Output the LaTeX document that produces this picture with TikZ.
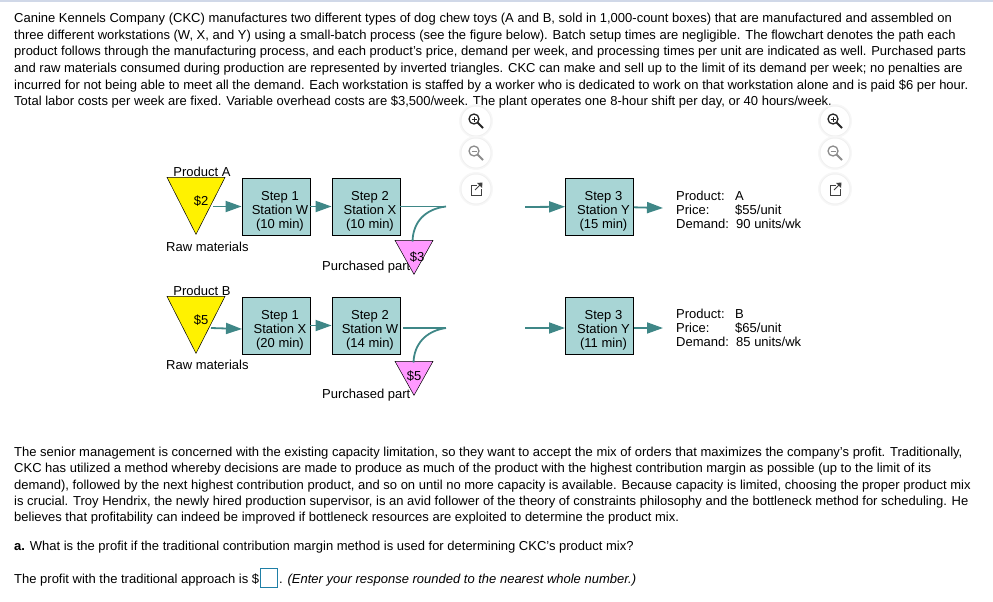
\documentclass[tikz,border=0pt]{standalone}
\usepackage{fontspec}
\setmainfont{Liberation Sans}
\usetikzlibrary{arrows.meta, positioning, shapes.geometric, calc}

\newcommand{\stationtext}[3]{\rule{0pt}{18pt}\hspace*{8pt}#1\\\hspace*{8pt}#2\\\hspace*{8pt}#3}
\newcommand{\infotext}[3]{\makebox[59pt][l]{Product:}#1\\\makebox[59pt][l]{Price:}#2\\\makebox[60pt][l]{Demand:}#3}
\newcommand{\iconbase}[1]{%
  \fill[black!3] (#1) circle (17);
  \fill[black!6] (#1) circle (15.5);
  \fill[white] (#1) circle (14.5);
}
\newcommand{\zoomicon}[3]{%
  \iconbase{#1}
  \draw[#3, line width=1.3pt] ($(#1)+(-2,-2)$) circle (5);
  \draw[#3, line width=2pt] ($(#1)+(1.6,1.6)$) -- ($(#1)+(7,7)$);
  \draw[#3, line width=.9pt] ($(#1)+(-4.5,-2)$) -- ($(#1)+(.5,-2)$);
  \ifnum#2=1 \draw[#3, line width=.9pt] ($(#1)+(-2,-4.5)$) -- ($(#1)+(-2,.5)$);\fi
}
\newcommand{\openicon}[1]{%
  \iconbase{#1}
  \draw[black!75, line width=1pt] ($(#1)+(1,-4)$) -- ($(#1)+(-5,-4)$) -- ($(#1)+(-5,6)$) -- ($(#1)+(5,6)$) -- ($(#1)+(5,0)$);
  \draw[black!75, line width=1pt] ($(#1)+(-1,1)$) -- ($(#1)+(5,-5)$);
  \fill[black!75] ($(#1)+(6.5,-6.5)$) -- ($(#1)+(1,-6)$) -- ($(#1)+(6,-1)$) -- cycle;
}

\begin{document}
\begin{tikzpicture}[x=1pt, y=-1pt, >={Triangle[length=16pt,width=11pt]},
    txt/.style={inner sep=0pt, anchor=base west, font=\fontsize{13}{14}\selectfont},
    lbl/.style={inner sep=0pt, font=\fontsize{13}{14}\selectfont},
    stepbox/.style={draw=black, line width=.8pt, fill=stationfill, minimum width=68pt, minimum height=57pt, inner sep=0pt, align=center, font=\fontsize{13}{14}\selectfont},
    info/.style={inner sep=0pt, anchor=north west, align=left, font=\fontsize{13}{14}\selectfont},
    rawtri/.style={draw=black, line width=.5pt, fill=yellow, isosceles triangle, isosceles triangle stretches, shape border rotate=-90, minimum width=58pt, minimum height=57pt, inner sep=0pt, anchor=apex},
    parttri/.style={draw=black, line width=.5pt, fill=partfill, isosceles triangle, isosceles triangle stretches, shape border rotate=-90, minimum width=38pt, minimum height=34pt, inner sep=0pt, anchor=apex},
    flow/.style={->, flowcolor, line width=1.8pt},
    feed/.style={flowcolor, line width=1.8pt}]
  \definecolor{stationfill}{HTML}{A8D5D5}
  \definecolor{partfill}{HTML}{FF99FF}
  \definecolor{flowcolor}{HTML}{3F8787}
  \definecolor{answerblue}{HTML}{1F7FA6}
  \definecolor{topline}{HTML}{D0D8E8}
  \useasboundingbox (0,0) rectangle (993,602);
  \draw[topline, line width=2pt] (0,1) -- (993,1);

  % Problem statement
  \node[txt] (t1) at (14,23) {Canine Kennels Company (CKC) manufactures two different types of dog chew toys (A and B, sold in 1,000-count boxes) that are manufactured and assembled on};
  \node[txt] (t2) at (14,39.5) {three different workstations (W, X, and Y) using a small-batch process (see the figure below). Batch setup times are negligible. The flowchart denotes the path each};
  \node[txt] (t3) at (14,56) {product follows through the manufacturing process, and each product's price, demand per week, and processing times per unit are indicated as well. Purchased parts};
  \node[txt] (t4) at (14,72.5) {and raw materials consumed during production are represented by inverted triangles. CKC can make and sell up to the limit of its demand per week; no penalties are};
  \node[txt] (t5) at (14,89) {incurred for not being able to meet all the demand. Each workstation is staffed by a worker who is dedicated to work on that workstation alone and is paid \$6 per hour.};
  \node[txt] (t6) at (14,105) {Total labor costs per week are fixed. Variable overhead costs are \$3,500/week. The plant operates one 8-hour shift per day, or 40 hours/week.};

  % Icons
  \zoomicon{476,121}{1}{black!85}
  \zoomicon{476,153}{0}{black!45}
  \openicon{476,189}
  \zoomicon{835,121}{1}{black!85}
  \zoomicon{835,153}{0}{black!45}
  \openicon{835,189}

  % Product A
  \node[lbl] (prodA) at (202,172) {Product A};
  \node[rawtri] (triA) at (196,235) {};
  \node[lbl] at (201,201) (costA) {\$2};
  \node[stepbox] (stepA1) at (276,206.5) {\stationtext{Step 1}{Station W}{(10 min)}};
  \node[stepbox] (stepA2) at (366,206.5) {\stationtext{Step 2}{Station X}{(10 min)}};
  \node[stepbox] (stepA3) at (599.5,206.5) {\stationtext{Step 3}{Station Y}{(15 min)}};
  \node[lbl, anchor=west] (rawA) at (166,246.5) {Raw materials};
  \node[lbl, anchor=west] (partA) at (322,267) {Purchased part};
  \node[parttri] (ptriA) at (414,275) {};
  \node[lbl] (pcostA) at (417,257) {\$3};
  \node[info] (infoA) at (676,190.5) {\infotext{A}{\$55/unit}{90 units/wk}};
  \coordinate (startA) at (213,206.5);
  \coordinate (bendA) at (446,206.5);
  \coordinate (inA) at (525,207);
  \coordinate (outA) at (663,208);
  \draw[flow] (startA) -- (stepA1);
  \draw[flow] (stepA1) -- (stepA2);
  \draw[feed] (stepA2.east) -- (bendA);
  \draw[feed] (bendA) .. controls (425,209) and (413,222) .. (412.5,241.5);
  \draw[flow] (inA) -- (stepA3);
  \draw[flow] (stepA3) -- (outA);

  % Product B
  \node[lbl] (prodB) at (202,291) {Product B};
  \node[rawtri] (triB) at (196,354) {};
  \node[lbl] (costB) at (201,320) {\$5};
  \node[stepbox] (stepB1) at (276,325.5) {\stationtext{Step 1}{Station X}{(20 min)}};
  \node[stepbox] (stepB2) at (366,325.5) {\stationtext{Step 2}{Station W}{(14 min)}};
  \node[stepbox] (stepB3) at (599.5,325.5) {\stationtext{Step 3}{Station Y}{(11 min)}};
  \node[lbl, anchor=west] (rawB) at (166,365) {Raw materials};
  \node[lbl, anchor=west] (partB) at (322,395) {Purchased part};
  \node[parttri] (ptriB) at (414,396) {};
  \node[lbl] (pcostB) at (414,376) {\$5};
  \node[info] (infoB) at (676,309) {\infotext{B}{\$65/unit}{85 units/wk}};
  \coordinate (startB) at (211,328);
  \coordinate (tipB) at (242,329);
  \coordinate (startB2) at (403,328);
  \coordinate (bendB) at (446,328);
  \coordinate (inB) at (525,328);
  \coordinate (tipB3) at (565,328);
  \coordinate (outB3) at (634,328);
  \coordinate (outB) at (663,328);
  \draw[flow] (startB) -- (tipB);
  \draw[flow] (stepB1) -- (stepB2);
  \draw[feed] (startB2) -- (bendB);
  \draw[feed] (bendB) .. controls (425,331) and (414,345) .. (413.5,362.5);
  \draw[flow] (inB) -- (tipB3);
  \draw[flow] (outB3) -- (outB);

  % Discussion
  \node[txt] (d1) at (14,456) {The senior management is concerned with the existing capacity limitation, so they want to accept the mix of orders that maximizes the company's profit. Traditionally,};
  \node[txt] (d2) at (14,472.5) {CKC has utilized a method whereby decisions are made to produce as much of the product with the highest contribution margin as possible (up to the limit of its};
  \node[txt] (d3) at (14,489) {demand), followed by the next highest contribution product, and so on until no more capacity is available. Because capacity is limited, choosing the proper product mix};
  \node[txt] (d4) at (14,505) {is crucial. Troy Hendrix, the newly hired production supervisor, is an avid follower of the theory of constraints philosophy and the bottleneck method for scheduling. He};
  \node[txt] (d5) at (14,521.5) {believes that profitability can indeed be improved if bottleneck resources are exploited to determine the product mix.};
  \node[txt] (qa) at (14,550) {\textbf{a.} What is the profit if the traditional contribution margin method is used for determining CKC's product mix?};
  \node[txt] (ans) at (14,583) {The profit with the traditional approach is \$};
  \node[draw=answerblue, line width=.8pt, minimum width=17pt, minimum height=19pt, inner sep=0pt] (ansbox) at (268.5,577.5) {};
  \node[txt] (note) at (279,583) {. \textit{(Enter your response rounded to the nearest whole number.)}};
\end{tikzpicture}
\end{document}
